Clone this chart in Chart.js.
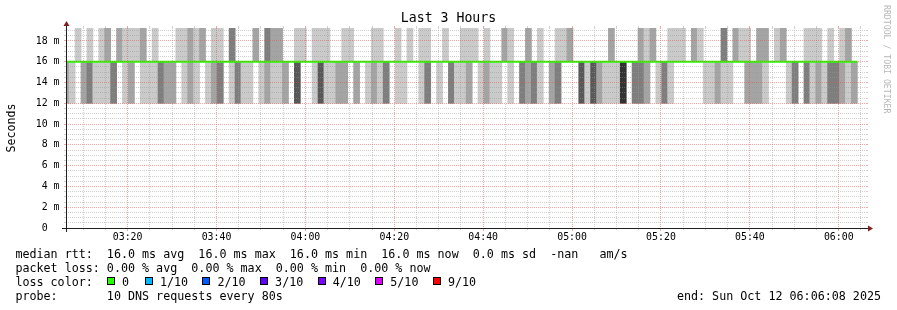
<!DOCTYPE html>
<html>
<head>
<meta charset="utf-8">
<title>Last 3 Hours</title>
<script src="https://cdn.jsdelivr.net/npm/chart.js@4.4.1/dist/chart.umd.min.js"></script>
<style>
  html, body { margin: 0; padding: 0; background: #ffffff; }
  #wrap { position: relative; width: 897px; height: 310px; overflow: hidden; background: #ffffff;
          font-family: "DejaVu Sans Mono", monospace; color: #000; }
  #chart { position: absolute; left: 0; top: 0; }
  .txt { position: absolute; white-space: pre; }
  #title { left: 0; top: 10.3px; width: 897px; text-align: center; font-size: 13.2px; line-height: 16px; }
  #legend { left: 15.4px; top: 247.8px; font-size: 11.7px; line-height: 13.9px; }
  #endtxt { right: 16px; top: 289.5px; font-size: 11.7px; line-height: 13.9px; }
  #mark { left: 883px; top: 5px; writing-mode: vertical-rl; font-size: 8.2px; line-height: 8.2px; color: rgba(0,0,0,0.3); }
  .box { display: inline-block; width: 6px; height: 6px; border: 1px solid #000; vertical-align: 1px; }
  .item { display: inline-block; white-space: pre; }
</style>
</head>
<body>
<div id="wrap">
  <canvas id="chart" width="897" height="310"></canvas>
  <div class="txt" id="title"></div>
  <div class="txt" id="legend"></div>
  <div class="txt" id="endtxt"></div>
  <div class="txt" id="mark">RRDTOOL / TOBI OETIKER</div>
</div>
<script>
// ---------------- data ----------------
const chartTitle = 'Last 3 Hours';
const yAxisTitle = 'Seconds';
const stepSeconds = 80;               // one smoke column per 80 s probe round
const firstColumnStart = '03:05:31';  // start of the first (partly hidden) round
const axisStart = '03:06:08';
const axisEnd = '06:06:08';
const fastBand = [12, 16];            // ms: pings answered in ~12 ms
const slowBand = [16, 20];            // ms: pings answered in ~20 ms
// number of the 10 pings per round that fell in the fast band (0..5)
const lowCount = [
  2,1,0,2,3,1,1,1,3,0,
  1,2,0,1,1,1,3,2,2,0,
  1,2,1,0,1,2,3,0,1,3,
  1,1,0,1,2,1,1,2,0,4,
  0,0,1,4,1,1,2,2,0,2,
  0,1,2,1,3,0,1,1,0,0,
  1,3,0,1,0,3,1,1,2,0,
  1,2,1,1,0,1,0,3,2,3,
  1,0,2,3,0,0,0,4,1,4,
  2,1,1,1,5,0,3,3,2,0,
  1,3,1,0,0,0,0,0,1,1,
  2,1,1,0,0,2,2,2,1,0,
  0,0,1,3,0,3,1,2,1,3,
  3,2,1,2
];
// number of the 10 pings per round that fell in the slow band (0..5)
const highCount = [
  0,0,1,0,1,0,1,2,0,2,
  1,1,1,2,0,1,0,0,0,1,
  1,2,1,2,0,1,1,0,3,0,
  0,0,2,0,3,2,2,0,0,1,
  1,0,1,1,1,0,0,1,1,0,
  0,0,1,1,0,0,1,0,1,0,
  1,1,0,0,1,0,0,1,1,1,
  0,1,0,0,2,1,0,0,2,0,
  1,0,0,1,1,2,0,0,0,0,
  0,0,2,0,0,0,0,2,1,2,
  0,0,1,1,1,0,2,1,0,0,
  0,3,0,2,1,1,0,2,2,0,
  1,2,0,0,0,1,1,1,0,1,
  0,1,2,0
];
// median rtt per round, ms
const medianRtt = [
  16,16,16,16,16,16,16,16,16,16,
  16,16,16,16,16,16,16,16,16,16,
  16,16,16,16,16,16,16,16,16,16,
  16,16,16,16,16,16,16,16,16,16,
  16,16,16,16,16,16,16,16,16,16,
  16,16,16,16,16,16,16,16,16,16,
  16,16,16,16,16,16,16,16,16,16,
  16,16,16,16,16,16,16,16,16,16,
  16,16,16,16,16,16,16,16,16,16,
  16,16,16,16,16,16,16,16,16,16,
  16,16,16,16,16,16,16,16,16,16,
  16,16,16,16,16,16,16,16,16,16,
  16,16,16,16,16,16,16,16,16,16,
  16,16,16,16
];
const xTickLabels = ['03:20','03:40','04:00','04:20','04:40','05:00','05:20','05:40','06:00'];
const yTickValues = [0, 2, 4, 6, 8, 10, 12, 14, 16, 18];
const yTickLabels = ['0  ','2 m','4 m','6 m','8 m','10 m','12 m','14 m','16 m','18 m'];
const yMax = 19.25;
const lossLabels = ['0', '1/10', '2/10', '3/10', '4/10', '5/10', '9/10'];
const lossColors = ['#26ff00', '#00b8ff', '#0059ff', '#5e00ff', '#7e00ff', '#dd00ff', '#ff0000'];
const rttStats = { avg: '16.0', max: '16.0', min: '16.0', now: '16.0', sd: '0.0', amps: '-nan' };
const lossStats = { avg: '0.00', max: '0.00', min: '0.00', now: '0.00' };
const probeText = '10 DNS requests every 80s';
const endText = 'Sun Oct 12 06:06:08 2025';

// ---------------- styling ----------------
const FONT = '"DejaVu Sans Mono", monospace';
const GRID = 'rgba(150,150,150,0.45)';
const MGRID = 'rgba(225,80,80,0.5)';
const AXIS = '#1f1f1f';
const ARROW = '#801f1f';
const shadeByCount = ['#cacaca', '#a4a4a4', '#7e7e7e', '#585858', '#323232'];

// ---------------- helpers ----------------
const toMinutes = s => { const p = s.split(':').map(Number); return p[0] * 60 + p[1] + (p[2] || 0) / 60; };
const xMin = toMinutes(axisStart);
const xMax = toMinutes(axisEnd);
const colStart = k => toMinutes(firstColumnStart) + k * stepSeconds / 60;
const colCenter = k => colStart(k) + stepSeconds / 120;

const smokeData = (counts, band) => counts.map((c, k) => ({ x: colCenter(k), y: c > 0 ? [band[0], band[1]] : null }));
const smokeColor = counts => ctx => { const c = counts[ctx.dataIndex]; return c ? shadeByCount[c - 1] : 'rgba(0,0,0,0)'; };

const medianData = [{ x: colStart(0), y: medianRtt[0] }].concat(medianRtt.map((v, k) => ({ x: colStart(k + 1), y: v })));

const xMajor = xTickLabels.map(toMinutes);
const xMinorVals = [];
for (let t = Math.ceil(xMin / 5) * 5; t <= xMax; t += 5) if (t % 20 !== 0) xMinorVals.push(t);
const yMinorVals = [];
for (let v = 0.5; v <= yMax; v += 0.5) if (v % 2 !== 0) yMinorVals.push(v);

// ---------------- texts ----------------
document.getElementById('title').textContent = chartTitle;
(function buildLegend() {
  const L = document.getElementById('legend');
  const l1 = 'median rtt:  ' + rttStats.avg + ' ms avg  ' + rttStats.max + ' ms max  ' + rttStats.min + ' ms min  ' +
             rttStats.now + ' ms now  ' + rttStats.sd + ' ms sd  ' + rttStats.amps + '   am/s';
  const l2 = 'packet loss: ' + lossStats.avg + ' % avg  ' + lossStats.max + ' % max  ' + lossStats.min + ' % min  ' + lossStats.now + ' % now';
  const d1 = document.createElement('div'); d1.textContent = l1; L.appendChild(d1);
  const d2 = document.createElement('div'); d2.textContent = l2; L.appendChild(d2);
  const d3 = document.createElement('div');
  d3.appendChild(document.createTextNode('loss color:  '));
  lossLabels.forEach((lab, i) => {
    const it = document.createElement('span'); it.className = 'item';
    it.style.width = (i === 0 ? 38 : 57.6) + 'px';
    if (i === lossLabels.length - 1) it.style.width = 'auto';
    const b = document.createElement('span'); b.className = 'box'; b.style.background = lossColors[i];
    it.appendChild(b); it.appendChild(document.createTextNode(' ' + lab));
    d3.appendChild(it);
  });
  L.appendChild(d3);
  const d4 = document.createElement('div'); d4.textContent = 'probe:       ' + probeText; L.appendChild(d4);
  document.getElementById('endtxt').textContent = 'end: ' + endText;
})();

// ---------------- frame plugin (axes, arrows, tick marks) ----------------
const align = p => Math.round(p - 0.5) + 0.5;
const rrdFrame = {
  id: 'rrdFrame',
  afterDraw(chart) {
    const { ctx, chartArea: a } = chart;
    const xs = chart.scales.x, ys = chart.scales.y;
    ctx.save();
    ctx.lineWidth = 1;
    ctx.setLineDash([]);
    for (let v = 0.5; v <= yMax; v += 0.5) {
      const y = align(ys.getPixelForValue(v));
      ctx.strokeStyle = (v % 2 === 0) ? MGRID : GRID;
      ctx.beginPath();
      ctx.moveTo(a.left - 2, y); ctx.lineTo(a.left, y);
      ctx.moveTo(a.right, y); ctx.lineTo(a.right + 2, y);
      ctx.stroke();
    }
    for (let t = Math.ceil(xMin / 5) * 5; t <= xMax; t += 5) {
      const x = align(xs.getPixelForValue(t));
      const major = t % 20 === 0;
      ctx.strokeStyle = major ? MGRID : GRID;
      ctx.beginPath();
      ctx.moveTo(x, a.top - 2); ctx.lineTo(x, a.top);
      ctx.moveTo(x, a.bottom); ctx.lineTo(x, a.bottom + (major ? 3 : 2));
      ctx.stroke();
    }
    const x0 = align(a.left), y0 = align(a.bottom);
    ctx.strokeStyle = AXIS;
    ctx.beginPath();
    ctx.moveTo(a.left - 4, y0); ctx.lineTo(a.right + 4, y0);
    ctx.moveTo(x0, a.bottom + 4); ctx.lineTo(x0, a.top - 4);
    ctx.stroke();
    ctx.fillStyle = ARROW;
    ctx.beginPath();
    ctx.moveTo(a.right + 2, y0 - 3); ctx.lineTo(a.right + 2, y0 + 3); ctx.lineTo(a.right + 7, y0); ctx.closePath();
    ctx.fill();
    ctx.beginPath();
    ctx.moveTo(x0 - 3, a.top - 2); ctx.lineTo(x0 + 3, a.top - 2); ctx.lineTo(x0, a.top - 7); ctx.closePath();
    ctx.fill();
    ctx.restore();
  }
};

// ---------------- chart ----------------
const barCommon = { grouped: false, barPercentage: 1, categoryPercentage: 1, borderWidth: 0, inflateAmount: 0.4, clip: 0 };
new Chart(document.getElementById('chart'), {
  type: 'bar',
  data: {
    datasets: [
      Object.assign({ label: 'fast pings', data: smokeData(lowCount, fastBand), backgroundColor: smokeColor(lowCount), order: 3 }, barCommon),
      Object.assign({ label: 'slow pings', data: smokeData(highCount, slowBand), backgroundColor: smokeColor(highCount), order: 2 }, barCommon),
      { type: 'line', label: 'median rtt', data: medianData, stepped: 'before', borderColor: lossColors[0],
        borderWidth: 2, pointRadius: 0, fill: false, clip: 0, order: 1 }
    ]
  },
  options: {
    responsive: false,
    devicePixelRatio: 1,
    animation: false,
    events: [],
    layout: { padding: { top: 28, right: 31, bottom: 0, left: 0 } },
    plugins: { legend: { display: false }, title: { display: false }, tooltip: { enabled: false } },
    scales: {
      x: {
        type: 'linear', position: 'bottom', min: xMin, max: xMax, offset: false,
        afterBuildTicks: s => { s.ticks = xMajor.map(v => ({ value: v })); },
        afterFit: s => { s.height = 82; },
        grid: { offset: false, color: MGRID, lineWidth: 1, drawTicks: false, z: 1 },
        border: { display: false, dash: [1, 1] },
        ticks: { autoSkip: false, maxRotation: 0, minRotation: 0, padding: 3, color: '#000',
                 font: { family: FONT, size: 9.9 },
                 callback: v => { const i = xMajor.findIndex(m => Math.abs(m - v) < 1e-6); return i >= 0 ? xTickLabels[i] : ''; } }
      },
      xMinor: {
        type: 'linear', position: 'bottom', min: xMin, max: xMax, offset: false,
        afterBuildTicks: s => { s.ticks = xMinorVals.map(v => ({ value: v })); },
        afterFit: s => { s.height = 0; },
        grid: { offset: false, color: GRID, lineWidth: 1, drawTicks: false, z: 1 },
        border: { display: false, dash: [1, 1] },
        ticks: { display: false }
      },
      y: {
        type: 'linear', position: 'left', min: 0, max: yMax,
        afterBuildTicks: s => { s.ticks = yTickValues.map(v => ({ value: v })); },
        afterFit: s => { s.width = 66; },
        grid: { color: MGRID, lineWidth: 1, drawTicks: false, z: 1 },
        border: { display: false, dash: [1, 1] },
        title: { display: true, text: yAxisTitle, color: '#000', font: { family: FONT, size: 11.6 }, padding: { top: 5, bottom: 0 } },
        ticks: { padding: 6.5, color: '#000', font: { family: FONT, size: 9.9 },
                 callback: v => { const i = yTickValues.indexOf(v); return i >= 0 ? yTickLabels[i] : ''; } }
      },
      yMinor: {
        type: 'linear', position: 'left', min: 0, max: yMax,
        afterBuildTicks: s => { s.ticks = yMinorVals.map(v => ({ value: v })); },
        afterFit: s => { s.width = 0; },
        grid: { color: GRID, lineWidth: 1, drawTicks: false, z: 1 },
        border: { display: false, dash: [1, 1] },
        ticks: { display: false }
      }
    }
  },
  plugins: [rrdFrame]
});
</script>
</body>
</html>
